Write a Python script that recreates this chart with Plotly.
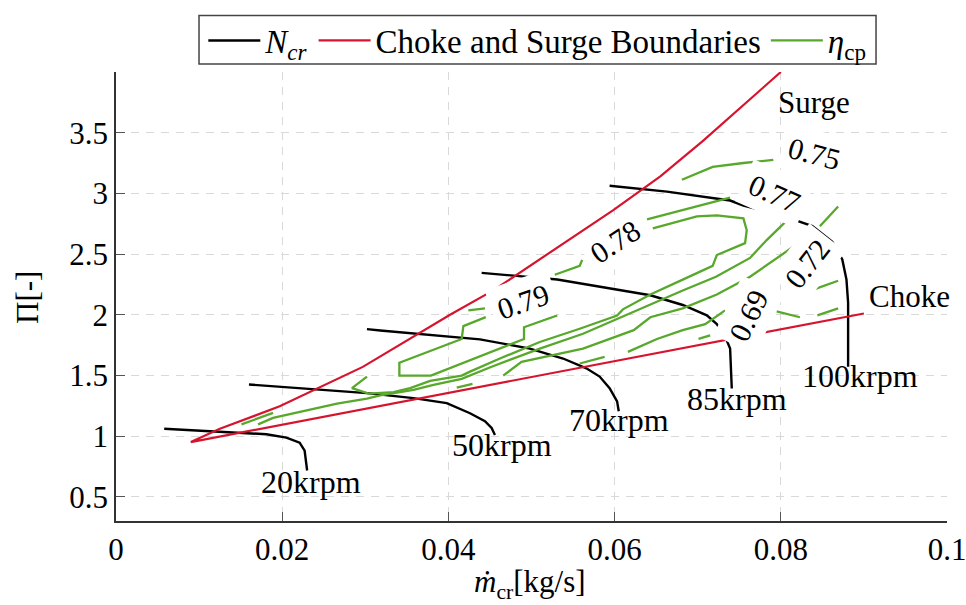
import plotly.graph_objects as go

FONT = "Liberation Serif, DejaVu Serif, Times New Roman, serif"
BLACK = "#000000"
RED = "#d6142e"
GREEN = "#58a82c"

# ---------------- speed lines (corrected speed) ----------------
n20_x = [0.0058, 0.0137, 0.0181, 0.0205, 0.0221, 0.0227, 0.0230]
n20_y = [1.060, 1.034, 1.015, 0.987, 0.946, 0.879, 0.716]
n50_x = [0.0160, 0.0245, 0.0302, 0.0358, 0.0398, 0.0426, 0.0444, 0.0452, 0.0456]
n50_y = [1.425, 1.383, 1.354, 1.313, 1.272, 1.188, 1.123, 1.066, 1.009]
n70_x = [0.0302, 0.0318, 0.0438, 0.0498, 0.0538, 0.0566, 0.0582, 0.0594, 0.0603, 0.0605]
n70_y = [1.881, 1.870, 1.797, 1.721, 1.639, 1.558, 1.490, 1.395, 1.286, 1.205]
n85_x = [0.0440, 0.0531, 0.0643, 0.0682, 0.0711, 0.0723, 0.0733, 0.0739, 0.0741]
n85_y = [2.345, 2.290, 2.160, 2.080, 1.995, 1.922, 1.820, 1.721, 1.392]
n100_x = [0.0594, 0.0663, 0.0739, 0.0755, 0.0800, 0.0838, 0.0862, 0.0874, 0.0879, 0.0881, 0.0881]
n100_y = [3.063, 3.014, 2.941, 2.900, 2.820, 2.730, 2.600, 2.455, 2.290, 2.100, 1.571]

speed_names = ["20krpm", "50krpm", "70krpm", "85krpm", "100krpm"]
speed_label_x = [0.0235, 0.0465, 0.0605, 0.0747, 0.0895]
speed_label_y = [0.79, 1.09, 1.30, 1.47, 1.66]

# ---------------- choke / surge boundaries ----------------
surge_x = [0.0090, 0.0125, 0.0197, 0.0297, 0.0402, 0.0454, 0.0598, 0.0655, 0.0706, 0.0800]
surge_y = [0.950, 1.060, 1.245, 1.570, 2.000, 2.200, 2.860, 3.140, 3.430, 4.000]
choke_x = [0.0090, 0.0318, 0.0679, 0.0900]
choke_y = [0.950, 1.245, 1.720, 2.010]

# ---------------- efficiency contours (None = break) ----------------
eta79_x = [0.0445, 0.0418, 0.0416, 0.0341, 0.0341, 0.0379, 0.0491, 0.0491, 0.0531]
eta79_y = [1.980, 1.906, 1.800, 1.604, 1.498, 1.498, 1.800, 1.897, 1.995]

eta78_x = [0.0302, 0.0284, 0.0304, 0.0334, 0.0354, 0.0378, 0.0416, 0.0426, 0.0462, 0.0510,
           0.0558, 0.0603, 0.0610, 0.0643, 0.0682, 0.0718, 0.0723, 0.0757, 0.0759, 0.0755,
           0.0723, 0.0699, 0.0646, None, 0.0561, 0.0558, 0.0528, None, 0.0444, 0.0424]
eta78_y = [1.490, 1.395, 1.349, 1.362, 1.395, 1.455, 1.498, 1.531, 1.639, 1.775,
           1.884, 1.993, 2.044, 2.166, 2.289, 2.403, 2.492, 2.590, 2.696, 2.794,
           2.818, 2.810, 2.712, None, 2.452, 2.403, 2.329, None, 2.052, 2.036]

eta77_x = [0.0151, 0.0189, None,
           0.0171, 0.0189, 0.0266, 0.0302, 0.0318, 0.0358, 0.0382, 0.0416, 0.0452, 0.0462,
           0.0510, 0.0562, 0.0603, 0.0634, 0.0682, 0.0722, 0.0763, 0.0783, 0.0805, None,
           0.0639, 0.0679, 0.0703, 0.0739]
eta77_y = [1.096, 1.191, None,
           1.096, 1.150, 1.267, 1.308, 1.335, 1.381, 1.422, 1.471, 1.571, 1.598,
           1.721, 1.843, 1.965, 2.060, 2.199, 2.313, 2.468, 2.615, 2.761, None,
           2.786, 2.859, 2.900, 2.965]

eta75_x = [0.0681, 0.0718, 0.0755, 0.0791, None,
           0.0410, 0.0429, None,
           0.0466, 0.0488, 0.0562, 0.0623, 0.0643, 0.0682, 0.0723, 0.0763, 0.0818, None,
           0.0847, 0.0869]
eta75_y = [3.112, 3.218, 3.250, 3.275, None,
           1.400, 1.430, None,
           1.498, 1.612, 1.721, 1.873, 1.979, 2.052, 2.166, 2.313, 2.574, None,
           2.729, 2.892]

eta72_x = [0.0558, 0.0588, None, 0.0616, 0.0651, 0.0682, 0.0709, 0.0733, None,
           0.0839, 0.0869]
eta72_y = [1.598, 1.653, None, 1.694, 1.800, 1.873, 1.922, 2.036, None,
           2.207, 2.280]

eta69_x = [0.0701, 0.0715, None, 0.0795, 0.0823, None, 0.0844, 0.0869]
eta69_y = [1.800, 1.830, None, 2.028, 1.979, None, 1.995, 2.052]

contour_label_text = ["0.79", "0.78", "0.77", "0.75", "0.72", "0.69"]
contour_label_x = [0.0490, 0.0601, 0.0792, 0.0840, 0.0832, 0.0761]
contour_label_y = [2.105, 2.600, 2.995, 3.325, 2.420, 1.995]
contour_label_angle = [-19, -33, 24, 15, -52, -64]

x_ticks = [0, 0.02, 0.04, 0.06, 0.08, 0.1]
x_ticktext = ["0", "0.02", "0.04", "0.06", "0.08", "0.1"]
y_ticks = [0.5, 1, 1.5, 2, 2.5, 3, 3.5]
y_ticktext = ["0.5", "1", "1.5", "2", "2.5", "3", "3.5"]


def join(xs_list, ys_list):
    X, Y = [], []
    for i, (xs, ys) in enumerate(zip(xs_list, ys_list)):
        if i:
            X.append(None)
            Y.append(None)
        X += list(xs)
        Y += list(ys)
    return X, Y


fig = go.Figure()

sx, sy = join([n20_x, n50_x, n70_x, n85_x, n100_x], [n20_y, n50_y, n70_y, n85_y, n100_y])
fig.add_trace(go.Scatter(x=sx, y=sy, mode="lines", line=dict(color=BLACK, width=2.4),
                         name="<i>N</i><sub><i>cr</i></sub>", connectgaps=False))

bx = list(reversed(choke_x)) + surge_x[1:]
by = list(reversed(choke_y)) + surge_y[1:]
fig.add_trace(go.Scatter(x=bx, y=by, mode="lines", line=dict(color=RED, width=2.2),
                         name="Choke and Surge Boundaries"))

cx, cy = join([eta79_x, eta78_x, eta77_x, eta75_x, eta72_x, eta69_x],
              [eta79_y, eta78_y, eta77_y, eta75_y, eta72_y, eta69_y])
fig.add_trace(go.Scatter(x=cx, y=cy, mode="lines", line=dict(color=GREEN, width=2.3),
                         name="<i>η</i><sub>cp</sub>", connectgaps=False))

annotations = []
for t, x, y in zip(speed_names, speed_label_x, speed_label_y):
    annotations.append(dict(x=x, y=y, text=t, showarrow=False, xanchor="center",
                            yanchor="top", font=dict(family=FONT, size=32, color="black")))
for t, x, y, a in zip(contour_label_text, contour_label_x, contour_label_y, contour_label_angle):
    annotations.append(dict(x=x, y=y, text=t, showarrow=False, textangle=a,
                            bgcolor="white", borderpad=6,
                            font=dict(family=FONT, size=30, color="black")))
annotations.append(dict(x=0.0840, y=3.745, text="Surge", showarrow=False,
                        font=dict(family=FONT, size=31, color="black")))
annotations.append(dict(x=0.0955, y=2.150, text="Choke", showarrow=False,
                        font=dict(family=FONT, size=31, color="black")))
# axis titles
annotations.append(dict(xref="paper", yref="paper", x=0.4976, y=-0.141,
                        text="<i>ṁ</i><sub>cr</sub>[kg/s]", showarrow=False,
                        xanchor="center", yanchor="middle",
                        font=dict(family=FONT, size=31, color="black")))
annotations.append(dict(xref="paper", yref="paper", x=-0.1059, y=0.499,
                        text="Π[-]", showarrow=False, textangle=-90,
                        xanchor="center", yanchor="middle",
                        font=dict(family=FONT, size=31, color="black")))

axis_common = dict(showgrid=True, gridcolor="#d9d9d9", gridwidth=1.3, griddash="8px,7px",
                   showline=True, linecolor="#333333", linewidth=1.5, mirror=False,
                   ticks="inside", ticklen=9, tickwidth=1.3, tickcolor="#555555",
                   zeroline=False, automargin=False, ticklabeloverflow="allow",
                   tickfont=dict(family=FONT, size=31, color="black"))

# legend frame (paper coordinates)
legend_box = dict(type="rect", xref="paper", yref="paper",
                  x0=0.0999, x1=0.9146, y0=1.0177, y1=1.1258,
                  line=dict(color="#444444", width=1.5), fillcolor="white", layer="below")

fig.update_layout(
    width=966, height=605,
    margin=dict(l=116, r=19, t=68, b=84),
    paper_bgcolor="white", plot_bgcolor="white",
    font=dict(family=FONT, color="black"),
    annotations=annotations,
    shapes=[legend_box],
    legend=dict(orientation="h", x=0.507, xanchor="center", y=1.1325, yanchor="top",
                borderwidth=0, bgcolor="rgba(0,0,0,0)",
                font=dict(family=FONT, size=33, color="black"), itemwidth=52,
                tracegroupgap=0),
    xaxis=dict(range=[0, 0.1], tickvals=x_ticks, ticktext=x_ticktext, **axis_common),
    yaxis=dict(range=[0.3, 4.0], tickvals=y_ticks, ticktext=y_ticktext, **axis_common),
)

fig.write_html("out.html")
